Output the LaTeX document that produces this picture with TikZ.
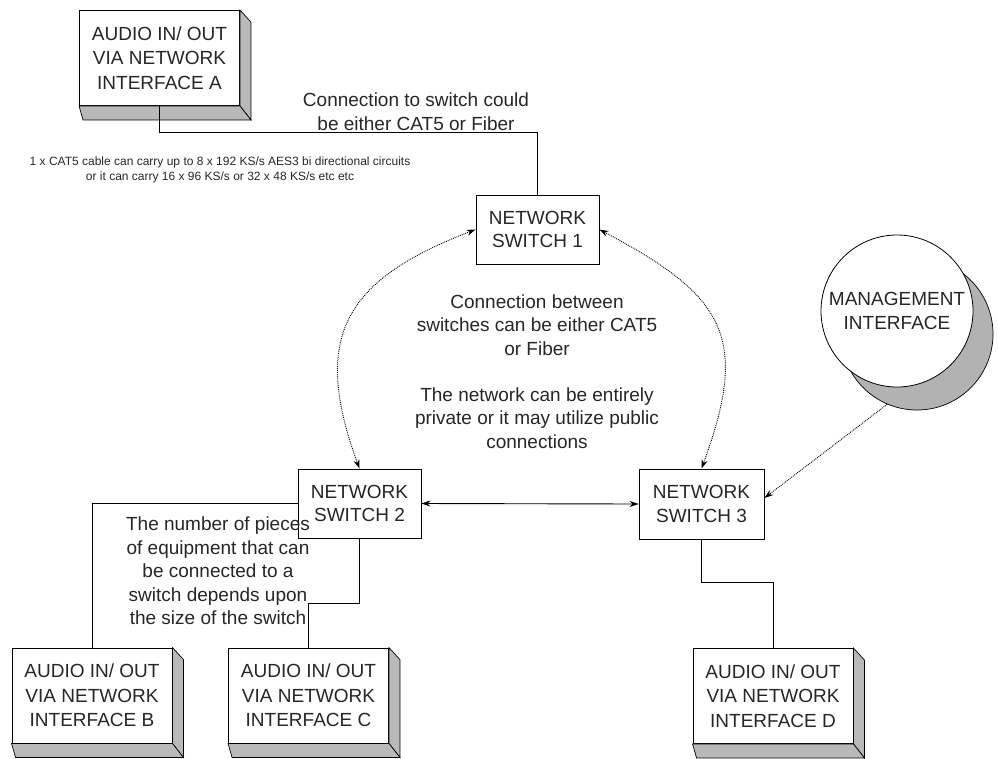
\documentclass[tikz,border=0pt]{standalone}
\usepackage{fontspec}
\setmainfont{Liberation Sans}
\usetikzlibrary{calc,arrows.meta}
\begin{document}
\begin{tikzpicture}[x=1pt,y=-1pt,
  txt/.style={font=\fontsize{19}{23.5}\selectfont, text=black!85, align=center, inner sep=0pt},
  audiobox/.style={draw, line width=0.9pt, fill=white, minimum width=160pt, minimum height=95pt, align=center, font=\fontsize{19}{24.5}\selectfont, text=black!85, inner sep=0pt},
  switchbox/.style={draw, line width=0.9pt, fill=white, minimum width=123pt, minimum height=69pt, align=center, font=\fontsize{19}{23.5}\selectfont, text=black!85, inner sep=0pt},
  face/.style={draw, line width=0.7pt, fill=gray!55},
  wire/.style={line width=0.9pt},
  link/.style={line width=0.9pt, densely dotted, {Stealth[length=9pt,width=6pt]}-{Stealth[length=9pt,width=6pt]}},
  solidlink/.style={line width=0.9pt, {Stealth[length=9pt,width=6pt]}-{Stealth[length=9pt,width=6pt]}},
  mgmtlink/.style={line width=0.9pt, densely dotted, -{Stealth[length=9pt,width=6pt]}}
]
\useasboundingbox (0,0) rectangle (998,758);

% audio boxes
\node[audiobox] (A) at (159.5,58) {AUDIO IN/ OUT\\VIA NETWORK\\INTERFACE A};
\node[audiobox] (B) at (92,695.5) {AUDIO IN/ OUT\\VIA NETWORK\\INTERFACE B};
\node[audiobox] (C) at (308.5,695.5) {AUDIO IN/ OUT\\VIA NETWORK\\INTERFACE C};
\node[audiobox] (D) at (773,696) {AUDIO IN/ OUT\\VIA NETWORK\\INTERFACE D};
\foreach \n in {A,B,C,D}{
  \path[face] (\n.north east) -- ++(11,12) -- ($(\n.south east)+(11,14)$) -- (\n.south east) -- cycle;
  \path[face] (\n.south west) -- (\n.south east) -- ($(\n.south east)+(11,14)$) -- ($(\n.south west)+(4,14)$) -- cycle;
}

% switches
\node[switchbox] (S1) at (537.5,229.5) {NETWORK\\SWITCH 1};
\node[switchbox] (S2) at (359.5,503.5) {NETWORK\\SWITCH 2};
\node[switchbox, minimum width=125pt, minimum height=70pt] (S3) at (701.5,504) {NETWORK\\SWITCH 3};

% management interface
\node[circle, draw, line width=0.7pt, fill=gray!60, minimum size=152pt, inner sep=0pt] (MS) at (917,334) {};
\node[circle, draw, line width=0.8pt, fill=white, minimum size=152pt, inner sep=0pt, font=\fontsize{19}{23.5}\selectfont, text=black!85, align=center] (M) at (897,311) {MANAGEMENT\\INTERFACE};

% wires
\draw[wire] (A.south) -- ++(0,26) -| (S1.north);
\draw[wire] (B.north) |- (S2.west);
\draw[wire] (S2.south) -- ++(0,65) -| (C.north);
\draw[wire] (S3.south) -- ++(0,43) -| (D.north);

% links
\draw[link] (S2.north) .. controls (311,337) and (344,280) .. (S1.west);
\draw[link] (S1.east) .. controls (725,296) and (750,337) .. (S3.north);
\draw[solidlink] (S2.east) -- (S3.west);
\draw[mgmtlink] (MS.247) -- ($(S3.east)+(0,-6)$);

% texts
\node[txt] (T1) at (416,111.5) {Connection to switch could\\be either CAT5 or Fiber};
\node[txt, font=\fontsize{12}{14.5}\selectfont] (T2) at (220,170) {1 x CAT5 cable can carry up to 8 x 192 KS/s AES3 bi directional circuits\\or it can carry 16 x 96 KS/s or 32 x 48 KS/s etc etc};
\node[txt] (T3) at (537,325) {Connection between\\switches can be either CAT5\\or Fiber};
\node[txt] (T4) at (537,418) {The network can be entirely\\private or it may utilize public\\connections};
\node[txt] (T5) at (218,571) {The number of pieces\\of equipment that can\\be connected to a\\switch depends upon\\the size of the switch};
\end{tikzpicture}
\end{document}
